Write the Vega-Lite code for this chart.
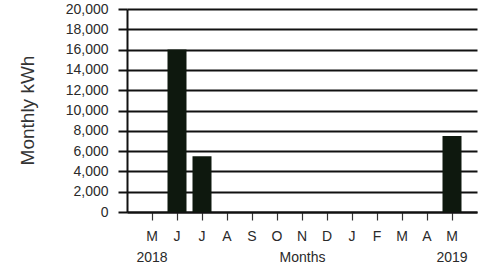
{
  "$schema": "https://vega.github.io/schema/vega-lite/v6.json",
  "width": 350,
  "height": 203,
  "autosize": "none",
  "padding": {"left": 127, "top": 9, "right": 10, "bottom": 54},
  "background": "white",
  "config": {"view": {"stroke": null}, "font": "Liberation Sans"},
  "data": {"values": [
    {"month": "2018-05", "kwh": 0},
    {"month": "2018-06", "kwh": 16000},
    {"month": "2018-07", "kwh": 5500},
    {"month": "2018-08", "kwh": 0},
    {"month": "2018-09", "kwh": 0},
    {"month": "2018-10", "kwh": 0},
    {"month": "2018-11", "kwh": 0},
    {"month": "2018-12", "kwh": 0},
    {"month": "2019-01", "kwh": 0},
    {"month": "2019-02", "kwh": 0},
    {"month": "2019-03", "kwh": 0},
    {"month": "2019-04", "kwh": 0},
    {"month": "2019-05", "kwh": 7500}
  ]},
  "mark": {"type": "bar", "color": "#0e180e"},
  "encoding": {
    "x": {
      "field": "month", "type": "ordinal", "sort": null,
      "scale": {"paddingInner": 0.24, "paddingOuter": 0.62},
      "axis": {
        "labelExpr": "[substring('JFMAMJJASOND', toNumber(substring(datum.value,5,7))-1, toNumber(substring(datum.value,5,7))), (substring(datum.value,5,7)=='05' && datum.index != null) ? substring(datum.value,0,4) : '']",
        "labelAngle": 0,
        "labelFont": "Liberation Sans",
        "labelFontSize": 14,
        "labelColor": "#2a2a2a",
        "labelPadding": 9,
        "labelLineHeight": 21,
        "ticks": true,
        "tickSize": 8,
        "tickColor": "#333333",
        "tickWidth": 1.2,
        "domain": true,
        "domainColor": "#111111",
        "domainWidth": 2,
        "title": "Months",
        "titleFont": "Liberation Sans",
        "titleFontSize": 14,
        "titleFontWeight": "normal",
        "titleColor": "#2a2a2a",
        "titleY": 45,
        "titleBaseline": "middle"
      }
    },
    "y": {
      "field": "kwh", "type": "quantitative",
      "scale": {"domain": [0, 20000]},
      "axis": {
        "values": [0, 2000, 4000, 6000, 8000, 10000, 12000, 14000, 16000, 18000, 20000],
        "format": ",d",
        "labelFont": "Liberation Sans",
        "labelFontSize": 14,
        "labelColor": "#2a2a2a",
        "labelPadding": 10,
        "tickSize": 9,
        "tickWidth": 2,
        "tickColor": "#111111",
        "grid": true,
        "gridColor": "#111111",
        "gridWidth": 2,
        "domainColor": "#111111",
        "domainWidth": 2,
        "title": "Monthly kWh",
        "titleFont": "Liberation Sans",
        "titleFontSize": 19,
        "titleFontWeight": "normal",
        "titleColor": "#333333",
        "titleX": -100,
        "titleY": 101,
        "titleBaseline": "middle",
        "titleAngle": -90
      }
    }
  }
}
